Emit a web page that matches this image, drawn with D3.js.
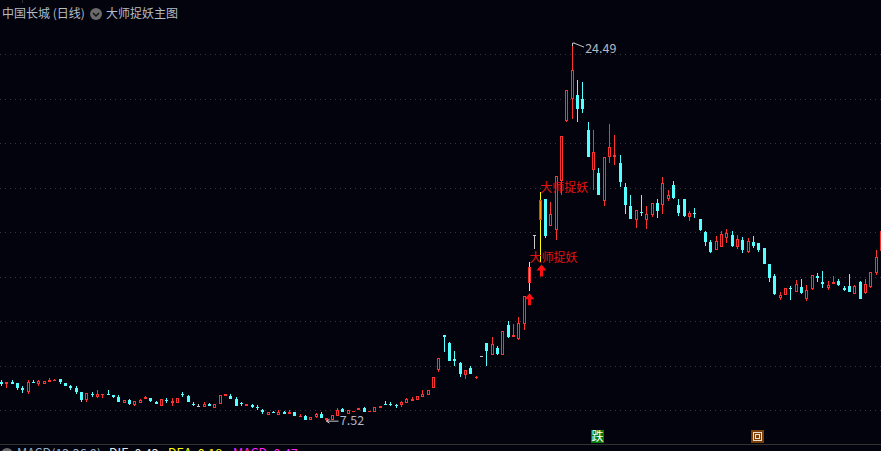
<!DOCTYPE html>
<html><head><meta charset="utf-8">
<script src="https://cdn.jsdelivr.net/npm/d3@7/dist/d3.min.js"></script>
<style>
html,body{margin:0;padding:0;background:#03030d;overflow:hidden}
text{font-family:"Noto Sans CJK SC","Noto Sans",sans-serif}
</style></head><body><svg id="c" width="881" height="451" style="display:block"></svg>
<script>
// Daily candles of 中国长城 (yuan)
const opens=[9.28,9.15,9.25,9.23,8.97,8.80,9.24,9.19,9.16,9.25,
9.30,9.41,9.23,9.06,8.98,8.82,8.43,8.71,8.58,8.67,
8.73,8.69,8.57,8.31,8.43,8.21,8.31,8.48,8.55,8.34,
8.19,8.46,8.30,8.30,8.71,8.62,8.26,8.16,8.13,8.26,
8.10,8.27,8.62,8.61,8.49,8.33,8.20,8.22,8.15,7.99,
7.77,7.89,7.77,7.90,7.81,7.89,7.68,7.72,7.54,7.68,
7.80,7.56,7.57,7.75,8.04,7.84,7.89,7.98,8.08,7.90,
7.92,8.07,8.25,8.28,8.22,8.22,8.31,8.40,8.43,8.58,
8.67,8.98,9.78,11.39,11.00,10.27,10.09,9.56,9.87,9.45,
10.41,11.00,10.47,10.77,10.47,11.81,11.27,11.18,11.87,13.69,
15.86,16.55,17.50,16.29,16.07,18.28,20.99,22.00,22.15,21.97,
20.57,18.78,18.63,17.38,19.38,19.36,19.08,18.04,17.18,16.56,
16.92,16.55,16.78,17.32,17.23,17.48,18.13,17.23,17.50,16.69,
16.87,16.59,16.01,15.56,15.20,15.33,15.74,15.87,15.33,15.65,
15.12,15.56,15.51,15.29,14.56,14.02,13.04,13.16,13.48,13.30,
13.52,12.98,13.43,14.02,13.75,13.48,13.66,13.80,13.48,13.57,
13.21,13.75,13.25,13.52,14.16,15.15];
const closes=[9.18,9.26,9.16,8.98,8.88,9.28,9.21,9.30,9.32,9.33,
9.34,9.24,9.07,9.00,8.79,8.43,8.76,8.67,8.74,8.70,
8.70,8.58,8.35,8.46,8.25,8.42,8.43,8.57,8.39,8.26,
8.51,8.40,8.40,8.55,8.69,8.35,8.24,8.16,8.25,8.19,
8.26,8.66,8.70,8.48,8.20,8.26,8.28,8.12,8.08,7.89,
7.89,7.86,7.89,7.81,7.90,7.72,7.75,7.54,7.69,7.80,
7.62,7.63,7.78,8.01,7.89,8.01,7.97,8.07,7.93,7.97,
8.15,8.19,8.21,8.24,8.16,8.34,8.48,8.48,8.61,8.71,
8.92,9.49,10.35,11.27,10.18,10.18,9.60,9.81,9.60,9.47,
10.41,10.63,10.98,10.53,11.57,11.27,11.36,11.89,13.12,14.43,
15.86,17.45,15.84,16.81,18.50,20.33,22.36,23.28,21.53,21.53,
19.36,19.61,17.65,19.38,19.83,19.47,18.23,17.23,16.60,16.99,
16.88,16.82,17.30,16.96,18.22,17.67,17.54,16.87,16.73,16.87,
16.79,16.10,15.56,15.11,15.60,15.92,15.96,15.38,15.69,15.20,
15.60,15.38,15.20,14.56,13.93,13.21,13.16,13.47,13.43,13.66,
13.25,13.39,14.07,13.93,13.66,13.62,13.75,13.62,13.39,13.30,
13.57,12.98,13.66,14.20,14.88,16.05];
const highs=[9.34,9.26,9.37,9.23,9.07,9.37,9.36,9.37,9.32,9.42,
9.41,9.41,9.23,9.12,9.06,8.82,8.76,8.79,8.88,8.70,
8.88,8.69,8.67,8.46,8.48,8.42,8.48,8.61,8.55,8.39,
8.51,8.53,8.52,8.55,8.83,8.67,8.37,8.26,8.37,8.31,
8.29,8.66,8.70,8.70,8.58,8.35,8.29,8.28,8.22,8.04,
7.89,7.97,7.98,7.95,8.01,7.89,7.81,7.77,7.69,7.86,
7.89,7.66,7.78,8.10,8.08,8.01,7.97,8.11,8.12,7.97,
8.15,8.19,8.39,8.34,8.26,8.40,8.52,8.57,8.61,8.88,
8.92,9.49,10.35,11.39,11.04,10.63,10.14,9.81,10.00,9.55,
10.41,11.00,11.30,10.86,11.57,11.99,11.85,12.17,13.12,14.67,
15.86,17.78,17.50,17.36,18.50,20.33,22.36,24.49,22.83,22.72,
20.93,20.57,18.88,19.38,20.84,20.34,19.48,18.18,17.68,16.99,
17.68,17.18,17.30,17.50,18.45,17.90,18.31,17.50,17.50,16.96,
17.09,16.59,16.05,15.65,15.83,16.05,16.14,16.05,15.87,15.78,
15.74,15.83,15.51,15.29,14.56,14.11,13.30,13.47,13.57,13.84,
13.89,13.62,14.07,14.16,14.25,13.80,14.02,13.89,13.57,14.11,
13.62,13.80,13.89,14.20,15.20,16.05];
const lows=[9.09,9.01,9.16,8.92,8.76,8.74,9.21,9.10,9.16,9.25,
9.30,9.19,9.07,8.91,8.74,8.34,8.35,8.60,8.55,8.52,
8.70,8.52,8.35,8.31,8.21,8.16,8.31,8.48,8.34,8.26,
8.19,8.33,8.17,8.30,8.58,8.35,8.16,8.16,8.13,8.19,
8.07,8.27,8.62,8.48,8.20,8.16,8.20,8.07,8.01,7.83,
7.77,7.86,7.77,7.81,7.81,7.72,7.68,7.54,7.54,7.65,
7.62,7.52,7.57,7.75,7.89,7.84,7.89,7.98,7.93,7.90,
7.92,8.07,8.21,8.16,8.07,8.13,8.31,8.40,8.43,8.58,
8.67,8.98,9.73,10.59,10.18,9.96,9.47,9.38,9.60,9.38,
10.38,9.96,10.47,10.47,10.47,11.22,11.27,11.13,11.58,13.36,
15.25,14.65,15.71,16.29,15.65,17.65,20.94,21.06,20.94,21.35,
19.36,17.90,17.65,17.15,19.08,19.03,18.04,16.82,16.60,16.19,
16.73,16.14,16.69,16.64,16.82,17.41,17.50,16.73,16.69,16.50,
16.64,16.05,15.38,15.06,15.20,15.33,15.51,15.33,15.24,15.06,
15.07,15.29,15.11,14.56,13.75,13.16,12.94,13.16,12.94,13.30,
13.21,12.89,13.39,13.75,13.48,13.39,13.66,13.57,13.34,13.30,
13.21,12.98,13.21,13.48,14.07,15.15];
const gridPrices=[8,10,12,14,16,18,20,22,24];
const signalBars=[99,101];         // candles marked by the 大师捉妖 signal
const grayBars=[37,90,100];
const signalLabels=[{bar:99,price:14.67,text:"大师捉妖"},{bar:101,price:17.78,text:"大师捉妖"}];
const titleText="中国长城 (日线)", indicatorText="大师捉妖主图";
const hiLabel="24.49", loLabel="7.52";
const macdTexts=["MACD(12,26,9)","DIF: 0.42","DEA: 0.18","MACD: 0.47"];

const bg="#03030d", red="#ff3232", cyan="#54ffff";
const macdColors=["#8fb0c8","#e8e8e8","#ffff00","#ff20ff"], macdX=[17,109,168,233];
const svg=d3.select("#c");
svg.append("rect").attr("width",881).attr("height",451).attr("fill",bg);
const x=d3.scaleLinear().domain([0,165]).range([1.5,881.5]);
const y=d3.scaleLinear().domain([8,24]).range([410,54]);
const px=i=>Math.floor(x(i));

// grid
svg.append("g").selectAll("line").data(gridPrices).join("line")
 .attr("x1",0).attr("x2",881).attr("y1",d=>Math.round(y(d))+.5).attr("y2",d=>Math.round(y(d))+.5)
 .attr("stroke","#3a3a3a").attr("stroke-dasharray","1 4");
svg.append("line").attr("x1",0).attr("x2",881).attr("y1",444.5).attr("y2",444.5).attr("stroke","#333");
svg.append("line").attr("x1",22.5).attr("x2",22.5).attr("y1",0).attr("y2",3).attr("stroke","#333");

// candles
const idx=d3.range(opens.length);
const colorOf=i=>signalBars.includes(i)?"#ffff00":grayBars.includes(i)?"#c8c8c8":closes[i]>opens[i]?red:cyan;
const g=svg.append("g").attr("shape-rendering","crispEdges");
g.selectAll("line.w").data(idx).join("line").attr("class","w")
 .attr("x1",i=>px(i)+.5).attr("x2",i=>px(i)+.5)
 .attr("y1",i=>y(highs[i])).attr("y2",i=>y(lows[i])).attr("stroke",colorOf);
// bodies: rising hollow, falling solid
g.selectAll("rect.b").data(idx).join("rect").attr("class","b")
 .attr("x",i=>px(i)-1).attr("width",3)
 .attr("y",i=>y(Math.max(opens[i],closes[i])))
 .attr("height",i=>Math.max(1,y(Math.min(opens[i],closes[i]))-y(Math.max(opens[i],closes[i]))))
 .attr("fill",i=>grayBars.includes(i)?"#c8c8c8":closes[i]>opens[i]?red:cyan);
g.selectAll("rect.h").data(idx.filter(i=>closes[i]>opens[i]&&!signalBars.includes(i))).join("rect").attr("class","h")
 .attr("x",i=>px(i)).attr("width",1)
 .attr("y",i=>y(closes[i])+1)
 .attr("height",i=>Math.max(0,y(opens[i])-y(closes[i])-2))
 .attr("fill",bg);
g.selectAll("rect.s").data(signalBars).join("rect").attr("class","s")
 .attr("x",i=>px(i)).attr("width",1)
 .attr("y",i=>y(closes[i])+1)
 .attr("height",i=>y(opens[i])-y(closes[i])-2)
 .attr("fill","#ffa000");

// signal arrows, under each signal candle's low
const arrowPath="M0 0L5 6L1.5 6L1.5 12L-1.5 12L-1.5 6L-5 6Z";
svg.append("g").selectAll("path").data(signalBars).join("path")
 .attr("transform",i=>`translate(${px(i)+.5+(i===101?1:0)},${y(lows[i])+2.5})`)
 .attr("d",arrowPath).attr("fill","#ff1010");

// signal labels
svg.append("g").selectAll("text").data(signalLabels).join("text")
 .attr("x",d=>x(d.bar)).attr("y",d=>y(d.price)).attr("font-size",12)
 .attr("fill","#e61010").text(d=>d.text);

// extreme labels
const hiIdx=d3.maxIndex(highs), loIdx=d3.minIndex(lows);
svg.append("path").attr("d",`M${px(hiIdx)+.5} ${y(highs[hiIdx])+3}v-3h2M${px(hiIdx)+2} ${y(highs[hiIdx])}l10 4`).attr("stroke","#c8c8c8").attr("fill","none");
svg.append("text").attr("x",x(hiIdx)+13).attr("y",y(highs[hiIdx])+10).attr("font-size",12.5).attr("fill","#b4b8c0").text(hiLabel);
svg.append("path").attr("d",`M${px(loIdx)+.5} ${y(lows[loIdx])+.5}l3 -2m-3 2l3 2m-3 -2h12`).attr("stroke","#c8c8c8").attr("fill","none");
svg.append("text").attr("x",x(loIdx)+13).attr("y",y(lows[loIdx])+4.5).attr("font-size",12.5).attr("fill","#b4b8c0").text(loLabel);

// header
svg.append("text").attr("x",2).attr("y",18).attr("font-size",12).attr("fill","#b4bcc4").text(titleText);
svg.append("circle").attr("cx",96).attr("cy",14).attr("r",6).attr("fill","#6a6a6a");
svg.append("path").attr("d","M93 13l3 3l3 -3").attr("stroke","#111").attr("stroke-width",1.5).attr("fill","none");
svg.append("text").attr("x",106).attr("y",18).attr("font-size",12).attr("fill","#b4bcc4").text(indicatorText);

// bottom strip
svg.append("circle").attr("cx",7).attr("cy",454).attr("r",6).attr("fill","#6a6a6a");
svg.append("g").selectAll("text").data(macdTexts).join("text")
 .attr("x",(d,i)=>macdX[i]).attr("y",458).attr("font-size",12.5).attr("fill",(d,i)=>macdColors[i]).text(d=>d);

// event badges
const badge=svg.append("g");
badge.append("rect").attr("x",591).attr("y",430).attr("width",13).attr("height",13).attr("fill","#0a7a0a");
badge.append("text").attr("x",597.5).attr("y",441).attr("text-anchor","middle").attr("font-size",12).attr("fill","#fff").text("跌");
badge.append("rect").attr("x",751).attr("y",430).attr("width",13).attr("height",13).attr("fill","#7a3f08");
badge.append("rect").attr("x",753.5).attr("y",432.5).attr("width",8).attr("height",8).attr("fill","none").attr("stroke","#e8e0d0");
badge.append("rect").attr("x",755.5).attr("y",434.5).attr("width",4).attr("height",4).attr("fill","none").attr("stroke","#e8e0d0");
</script></body></html>
